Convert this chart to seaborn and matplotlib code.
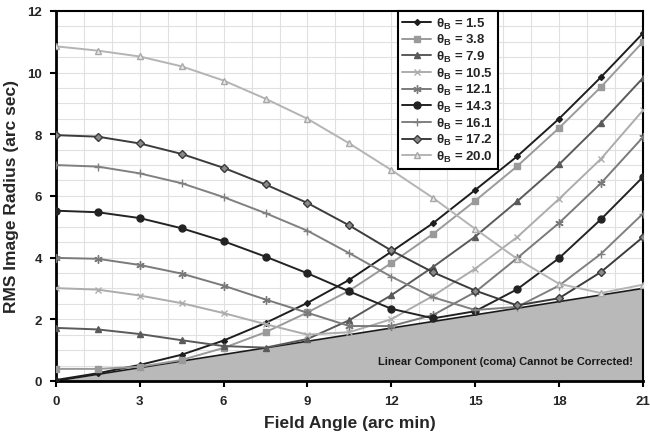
import matplotlib
matplotlib.use("Agg")
import matplotlib.pyplot as plt
import pandas as pd
import seaborn as sns

# Field angle samples (arc min)
field_angle = [0, 1.5, 3, 4.5, 6, 7.5, 9, 10.5, 12, 13.5, 15, 16.5, 18, 19.5, 21]

# Best-focus field angle of each curve
theta_b = ["1.5", "3.8", "7.9", "10.5", "12.1", "14.3", "16.1", "17.2", "20.0"]

# RMS image radius (arc sec) for each theta_B
rms_1_5 = [0.03, 0.25, 0.52, 0.85, 1.31, 1.88, 2.53, 3.28, 4.19, 5.12, 6.19, 7.28, 8.50, 9.85, 11.27]
rms_3_8 = [0.39, 0.39, 0.46, 0.68, 1.07, 1.58, 2.22, 2.93, 3.82, 4.77, 5.84, 6.96, 8.20, 9.53, 10.99]
rms_7_9 = [1.72, 1.67, 1.52, 1.32, 1.13, 1.08, 1.36, 1.97, 2.78, 3.70, 4.68, 5.82, 7.02, 8.36, 9.82]
rms_10_5 = [3.01, 2.96, 2.77, 2.52, 2.20, 1.84, 1.50, 1.58, 2.00, 2.76, 3.64, 4.66, 5.90, 7.20, 8.77]
rms_12_1 = [3.99, 3.96, 3.76, 3.48, 3.09, 2.64, 2.21, 1.78, 1.78, 2.14, 2.88, 3.98, 5.12, 6.41, 7.90]
rms_14_3 = [5.52, 5.47, 5.28, 4.95, 4.53, 4.03, 3.49, 2.90, 2.34, 2.03, 2.26, 2.97, 3.98, 5.24, 6.61]
rms_16_1 = [7.00, 6.95, 6.73, 6.41, 5.96, 5.44, 4.87, 4.14, 3.38, 2.71, 2.30, 2.40, 3.09, 4.12, 5.42]
rms_17_2 = [7.97, 7.92, 7.70, 7.36, 6.91, 6.37, 5.77, 5.04, 4.23, 3.52, 2.93, 2.45, 2.68, 3.53, 4.66]
rms_20_0 = [10.85, 10.71, 10.52, 10.20, 9.74, 9.15, 8.50, 7.70, 6.84, 5.93, 4.93, 3.96, 3.15, 2.85, 3.12]

# Uncorrectable linear (coma) component
coma_angle = [0, 21]
coma_radius = [0.0, 3.0]

x_ticks = [0, 3, 6, 9, 12, 15, 18, 21]
y_ticks = [0, 2, 4, 6, 8, 10, 12]

series = [rms_1_5, rms_3_8, rms_7_9, rms_10_5, rms_12_1,
          rms_14_3, rms_16_1, rms_17_2, rms_20_0]

frames = []
for lab, vals in zip(theta_b, series):
    frames.append(pd.DataFrame({"field": field_angle, "rms": vals, "theta": lab}))
df = pd.concat(frames, ignore_index=True)

styles = {
    "1.5":  dict(color="#1e1e1e", marker="D", ms=3.0, mfc="#1e1e1e", mec="#1e1e1e"),
    "3.8":  dict(color="#9a9a9a", marker="s", ms=4.0, mfc="#9a9a9a", mec="#9a9a9a"),
    "7.9":  dict(color="#5a5a5a", marker="^", ms=4.5, mfc="#5a5a5a", mec="#5a5a5a"),
    "10.5": dict(color="#acacac", marker="x", ms=5.0, mfc="none", mec="#acacac"),
    "12.1": dict(color="#7a7a7a", marker=(6, 2, 0), ms=6.0, mfc="none", mec="#7a7a7a"),
    "14.3": dict(color="#232323", marker="o", ms=5.0, mfc="#232323", mec="#232323"),
    "16.1": dict(color="#808080", marker="+", ms=6.0, mfc="none", mec="#808080"),
    "17.2": dict(color="#3c3c3c", marker="D", ms=3.6, mfc="#8a8a8a", mec="#3c3c3c"),
    "20.0": dict(color="#b4b4b4", marker="^", ms=4.6, mfc="#e8e8e8", mec="#a8a8a8"),
}

sns.set_theme(style="white")
plt.rcParams["font.family"] = ["Liberation Sans", "DejaVu Sans"]
plt.rcParams["mathtext.fontset"] = "custom"
plt.rcParams["mathtext.rm"] = "Liberation Sans"
plt.rcParams["mathtext.bf"] = "Liberation Sans:bold"

fig = plt.figure(figsize=(6.5, 4.39), dpi=100)
ax = fig.add_axes([0.086, 0.130, 0.903, 0.843])

# Shaded region for the linear component
ax.fill_between(coma_angle, 0, coma_radius, color="#b9b9b9", zorder=1, lw=0)
sns.lineplot(x=coma_angle, y=coma_radius, ax=ax, color="#1a1a1a", lw=1.2, zorder=2)

for lab in theta_b:
    sub = df[df["theta"] == lab]
    st = styles[lab]
    sns.lineplot(data=sub, x="field", y="rms", ax=ax, color=st["color"],
                 marker=st["marker"], markersize=st["ms"],
                 markerfacecolor=st["mfc"], markeredgecolor=st["mec"],
                 markeredgewidth=1.0, lw=1.4, zorder=3,
                 label="θ$_{\\mathbf{B}}$ = " + lab)

ax.text(20.65, 0.65, "Linear Component (coma) Cannot be Corrected!",
        ha="right", va="center", fontsize=8, fontweight="bold", color="#1a1a1a",
        zorder=4)

ax.set_xlim(0, 21)
ax.set_ylim(0, 12)
ax.set_xticks(x_ticks)
ax.set_yticks(y_ticks)
ax.set_xticks([v for v in range(22)], minor=True)
ax.set_yticks([v * 0.5 for v in range(25)], minor=True)
ax.grid(which="both", color="#e0e0e0", lw=0.8, zorder=0)
ax.set_axisbelow(True)
ax.tick_params(axis="both", which="major", direction="out", length=4, width=1.5,
               color="black", labelsize=9.5, pad=6, bottom=True, left=True)
ax.tick_params(axis="both", which="minor", length=0)
for t in ax.get_xticklabels() + ax.get_yticklabels():
    t.set_fontweight("bold")

for side, sp in ax.spines.items():
    sp.set_visible(True)
    sp.set_color("black")
    sp.set_linewidth(2.0 if side in ("left", "bottom") else 1.5)

ax.set_xlabel("Field Angle (arc min)", fontsize=12.5, fontweight="bold", labelpad=6)
ax.set_ylabel("RMS Image Radius (arc sec)", fontsize=12.5, fontweight="bold", labelpad=6)

leg = ax.legend(loc="upper left", bbox_to_anchor=(0.582, 1.0), borderaxespad=0,
                frameon=True, fancybox=False, fontsize=9.5, handlelength=2.2,
                labelspacing=0.12, borderpad=0.35, handletextpad=0.4)
leg.get_frame().set_edgecolor("black")
leg.get_frame().set_linewidth(1.5)
leg.get_frame().set_facecolor("white")
leg.get_frame().set_alpha(1.0)
for t in leg.get_texts():
    t.set_fontweight("bold")
leg.set_zorder(5)

fig.savefig("out.png", dpi=100)
